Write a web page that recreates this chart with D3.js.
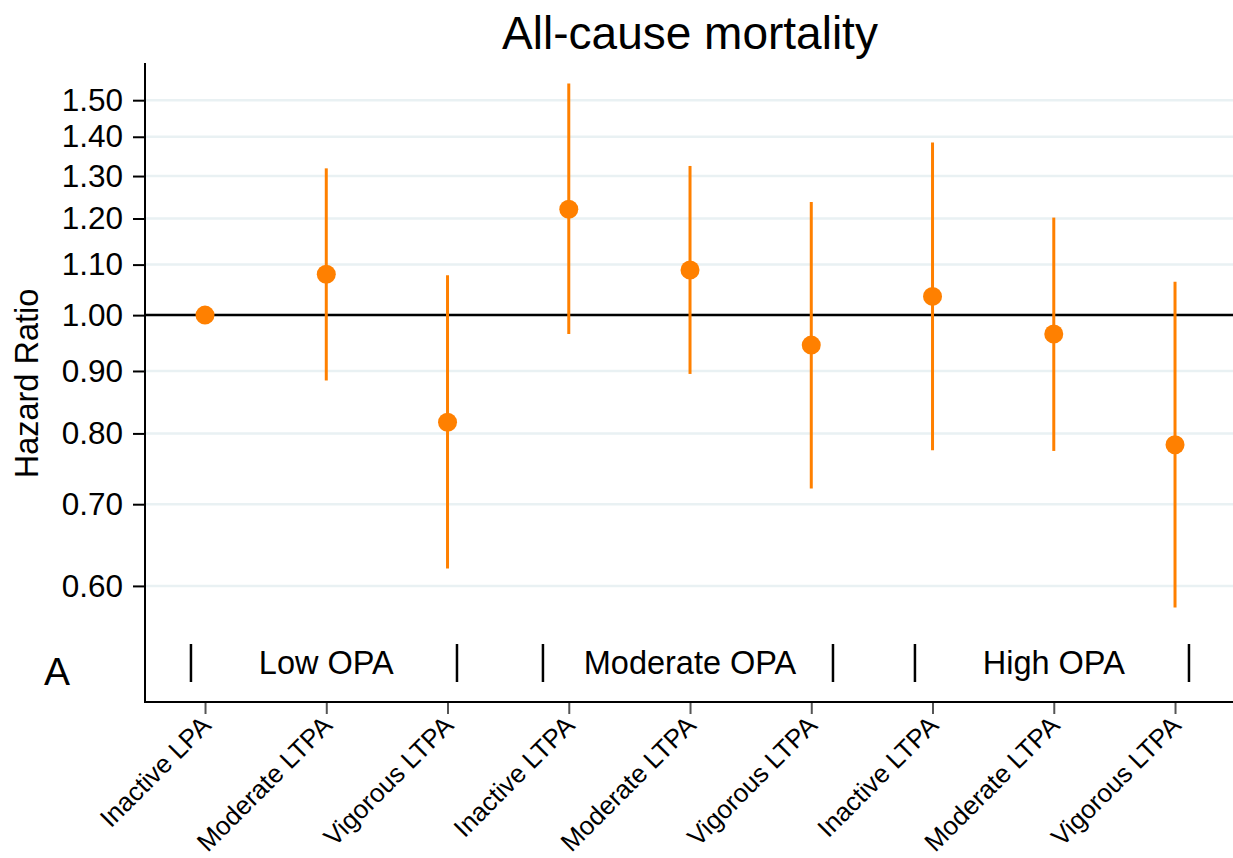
<!DOCTYPE html>
<html>
<head>
<meta charset="utf-8">
<script src="https://cdn.jsdelivr.net/npm/d3@7"></script>
<style>
  html, body { margin: 0; padding: 0; background: #fff; }
  svg { display: block; font-family: "Liberation Sans", Arial, sans-serif; }
</style>
</head>
<body>
<svg id="chart" width="1233" height="858"></svg>
<script>
// Categories along the x axis (LTPA level within each OPA group)
const categories = [
  "Inactive LPA", "Moderate LTPA", "Vigorous LTPA",
  "Inactive LTPA", "Moderate LTPA", "Vigorous LTPA",
  "Inactive LTPA", "Moderate LTPA", "Vigorous LTPA"
];
// Hazard ratios and 95% confidence limits
const hazardRatio = [1.00, 1.080, 0.817, 1.221, 1.089, 0.945, 1.036, 0.965, 0.783];
const ciLower     = [1.00, 0.884, 0.620, 0.965, 0.895, 0.721, 0.775, 0.774, 0.576];
const ciUpper     = [1.00, 1.319, 1.078, 1.548, 1.325, 1.238, 1.385, 1.202, 1.065];

// Y axis tick values / labels
const yTicks = [0.60, 0.70, 0.80, 0.90, 1.00, 1.10, 1.20, 1.30, 1.40, 1.50];

// OPA groups: label, centre category, bracket bar positions (category units)
const groupLabels  = ["Low OPA", "Moderate OPA", "High OPA"];
const groupCentres = [2, 5, 8];
const groupBars    = [[0.884, 3.078], [3.787, 6.179], [6.855, 9.115]];

const title = "All-cause mortality";
const yTitle = "Hazard Ratio";
const panelLetter = "A";

const W = 1233, H = 858;
const plot = { left: 145, top: 63, bottom: 702, right: 1233 };
const orange = "#ff8000";
const svg = d3.select("#chart");

const x = d3.scaleLinear()
  .domain([0.5, categories.length + 0.5])
  .range([144.4, 144.4 + 121.25 * categories.length]);
const y = d3.scaleLog()
  .domain([0.482, 1.609])
  .range([plot.bottom, plot.top]);

// gridlines
svg.append("g")
  .selectAll("line")
  .data(yTicks)
  .join("line")
  .attr("x1", plot.left).attr("x2", plot.right)
  .attr("y1", d => y(d)).attr("y2", d => y(d))
  .attr("stroke", "#e9f1f3").attr("stroke-width", 2.5);

// reference line at HR = 1
svg.append("line")
  .attr("x1", plot.left).attr("x2", plot.right)
  .attr("y1", y(1)).attr("y2", y(1))
  .attr("stroke", "#000").attr("stroke-width", 2.5);

// y axis
const yAxis = d3.axisLeft(y)
  .tickValues(yTicks)
  .tickFormat(d3.format(".2f"))
  .tickSize(12)
  .tickPadding(10);
const gy = svg.append("g")
  .attr("transform", `translate(${plot.left},0)`)
  .call(yAxis);
gy.select(".domain").remove();
gy.selectAll(".tick line").attr("stroke", "#000").attr("stroke-width", 2);
gy.selectAll(".tick text")
  .attr("font-size", 31.5)
  .attr("fill", "#000")
  .attr("font-family", "Liberation Sans, Arial, sans-serif");
svg.append("line")
  .attr("x1", plot.left).attr("x2", plot.left)
  .attr("y1", plot.top).attr("y2", plot.bottom + 1)
  .attr("stroke", "#000").attr("stroke-width", 2);

// x axis
const xAxis = d3.axisBottom(x)
  .tickValues(d3.range(1, categories.length + 1))
  .tickFormat(d => categories[d - 1])
  .tickSize(12)
  .tickSizeOuter(0);
const gx = svg.append("g")
  .attr("transform", `translate(0,${plot.bottom})`)
  .call(xAxis);
gx.select(".domain").remove();
gx.selectAll(".tick line").attr("stroke", "#555").attr("stroke-width", 2);
gx.selectAll(".tick text")
  .attr("font-size", 26)
  .attr("fill", "#000")
  .attr("font-family", "Liberation Sans, Arial, sans-serif")
  .attr("text-anchor", "end")
  .attr("dy", 0)
  .attr("y", 0)
  .attr("transform", "translate(7,25) rotate(-45)");
svg.append("line")
  .attr("x1", plot.left - 1).attr("x2", plot.right)
  .attr("y1", plot.bottom).attr("y2", plot.bottom)
  .attr("stroke", "#000").attr("stroke-width", 2);

// confidence intervals
svg.append("g")
  .selectAll("line")
  .data(categories.map((c, i) => i))
  .join("line")
  .attr("x1", i => x(i + 1)).attr("x2", i => x(i + 1))
  .attr("y1", i => y(ciLower[i])).attr("y2", i => y(ciUpper[i]))
  .attr("stroke", orange).attr("stroke-width", 3);

// point estimates
svg.append("g")
  .selectAll("circle")
  .data(hazardRatio)
  .join("circle")
  .attr("cx", (d, i) => x(i + 1))
  .attr("cy", d => y(d))
  .attr("r", 9.5)
  .attr("fill", orange);

// OPA group labels with bracket bars
const groupY = 674;
svg.append("g")
  .selectAll("text")
  .data(groupLabels)
  .join("text")
  .attr("x", (d, i) => x(groupCentres[i]))
  .attr("y", groupY)
  .attr("text-anchor", "middle")
  .attr("font-size", 32.5)
  .text(d => d);
svg.append("g")
  .selectAll("line")
  .data(groupBars.flat())
  .join("line")
  .attr("x1", d => x(d)).attr("x2", d => x(d))
  .attr("y1", 644).attr("y2", 682)
  .attr("stroke", "#000").attr("stroke-width", 2.5);

// panel letter
svg.append("text")
  .attr("x", 44).attr("y", 685)
  .attr("font-size", 39)
  .text(panelLetter);

// axis title
svg.append("text")
  .attr("transform", `translate(38,${(plot.top + plot.bottom) / 2 + 1}) rotate(-90)`)
  .attr("text-anchor", "middle")
  .attr("font-size", 32.5)
  .text(yTitle);

// chart title
svg.append("text")
  .attr("x", 690).attr("y", 49)
  .attr("text-anchor", "middle")
  .attr("font-size", 46)
  .text(title);
</script>
</body>
</html>
